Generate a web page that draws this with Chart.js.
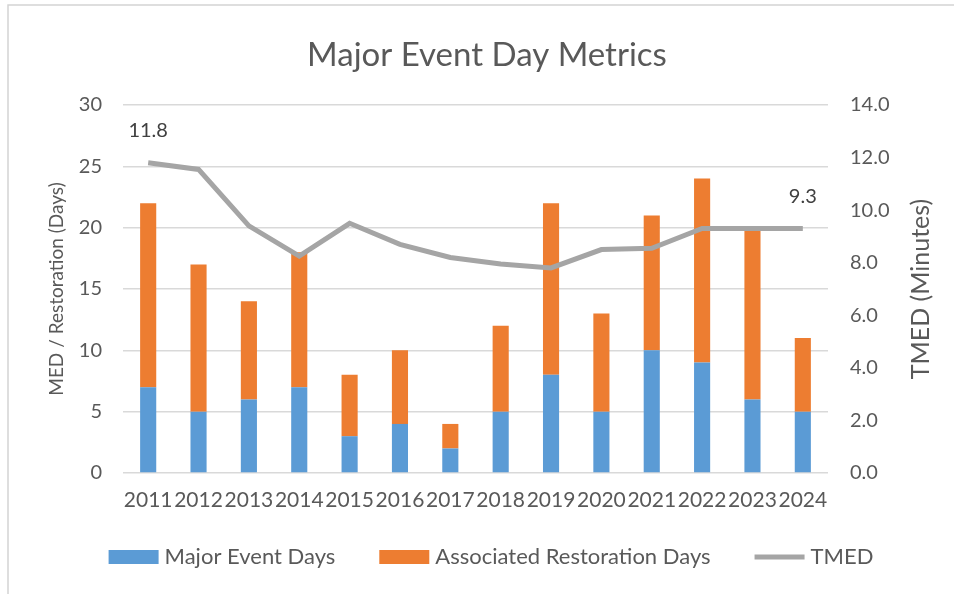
<!DOCTYPE html>
<html>
<head>
<meta charset="utf-8">
<script src="https://cdn.jsdelivr.net/npm/chart.js@4"></script>
<style>
  html, body { margin: 0; padding: 0; background: #fff; }
  #wrap { width: 954px; height: 594px; }
</style>
</head>
<body>
<div id="wrap"><canvas id="myChart" width="954" height="594"></canvas></div>
<script>
const years = ["2011", "2012", "2013", "2014", "2015", "2016", "2017", "2018", "2019", "2020", "2021", "2022", "2023", "2024"];
const majorEventDays = [7, 5, 6, 7, 3, 4, 2, 5, 8, 5, 10, 9, 6, 5];
const restorationDays = [15, 12, 8, 11, 5, 6, 2, 7, 14, 8, 11, 15, 14, 6];
const tmed = [11.8, 11.55, 9.4, 8.25, 9.5, 8.7, 8.2, 7.95, 7.8, 8.5, 8.55, 9.3, 9.3, 9.3];
const leftTicks = [0, 5, 10, 15, 20, 25, 30];
const rightTicks = [0, 2, 4, 6, 8, 10, 12, 14];

Chart.defaults.font.family = "Lato, 'Open Sans', sans-serif";
Chart.defaults.color = "#595959";

// thin frame around the picture (left and top edges)
const framePlugin = {
    id: "frame",
    beforeDraw(chart) {
        const c = chart.ctx;
        c.save();
        c.strokeStyle = "#d4d4d4";
        c.lineWidth = 1.5;
        c.beginPath();
        c.moveTo(8, 594);
        c.lineTo(8, 5);
        c.lineTo(954, 5);
        c.stroke();
        c.restore();
    }
};

// title, centred a little right of the canvas middle like the original
const titlePlugin = {
    id: "titleText",
    afterDraw(chart) {
        const c = chart.ctx;
        c.save();
        c.font = "33px Lato";
        c.fillStyle = "#595959";
        c.textAlign = "center";
        c.textBaseline = "middle";
        c.fillText("Major Event Day Metrics", 487, 55);
        c.restore();
    }
};

// value labels on first and last TMED point
const endLabels = {
    id: "endLabels",
    afterDatasetsDraw(chart) {
        const meta = chart.getDatasetMeta(2);
        const c = chart.ctx;
        c.save();
        c.font = "20px Lato";
        c.fillStyle = "#404040";
        c.textAlign = "center";
        c.textBaseline = "middle";
        [0, tmed.length - 1].forEach(i => {
            const pt = meta.data[i];
            c.fillText(tmed[i].toFixed(1), pt.x, pt.y - 32);
        });
        c.restore();
    }
};

// both axis titles read bottom-to-top, like Excel
const axisTitles = {
    id: "axisTitles",
    afterDraw(chart) {
        const c = chart.ctx;
        const area = chart.chartArea;
        const mid = (area.top + area.bottom) / 2;
        c.save();
        c.fillStyle = "#595959";
        c.textAlign = "center";
        c.textBaseline = "middle";

        c.save();
        c.translate(57, mid);
        c.rotate(-Math.PI / 2);
        c.font = "19px Lato";
        c.fillText("MED / Restoration (Days)", 0, 0);
        c.restore();

        c.translate(921, mid);
        c.rotate(-Math.PI / 2);
        c.font = "25px Lato";
        c.fillText("TMED (Minutes)", 0, 0);
        c.restore();
    }
};

// legend row under the axis
const legendRow = {
    id: "legendRow",
    afterDraw(chart) {
        const c = chart.ctx;
        const y = 557;
        const box = 50, gap = 6, spacing = 44;
        c.save();
        c.font = "22px Lato";
        c.textBaseline = "middle";
        const items = chart.data.datasets.map(ds => ({
            ds: ds,
            w: box + gap + c.measureText(ds.label).width
        }));
        const total = items.reduce((s, it) => s + it.w, 0) + spacing * (items.length - 1);
        let x = 491 - total / 2;
        items.forEach(it => {
            if (it.ds.type === "line") {
                c.strokeStyle = it.ds.borderColor;
                c.lineWidth = 5;
                c.beginPath();
                c.moveTo(x, y);
                c.lineTo(x + box, y);
                c.stroke();
            } else {
                c.fillStyle = it.ds.backgroundColor;
                c.fillRect(x, y - 7, box, 14);
            }
            c.fillStyle = "#595959";
            c.fillText(it.ds.label, x + box + gap, y);
            x += it.w + spacing;
        });
        c.restore();
    }
};

const ctx = document.getElementById("myChart");

new Chart(ctx, {
    type: "bar",
    data: {
        labels: years,
        datasets: [
            {
                label: "Major Event Days",
                data: majorEventDays,
                backgroundColor: "#5b9bd5",
                yAxisID: "y",
                order: 1
            },
            {
                label: "Associated Restoration Days",
                data: restorationDays,
                backgroundColor: "#ed7d31",
                yAxisID: "y",
                order: 1
            },
            {
                type: "line",
                label: "TMED",
                data: tmed,
                borderColor: "#a5a5a5",
                backgroundColor: "#a5a5a5",
                borderWidth: 5,
                pointRadius: 0,
                tension: 0,
                yAxisID: "y2",
                order: 0
            }
        ]
    },
    options: {
        responsive: false,
        animation: false,
        layout: {
            padding: { left: 0, right: 0, top: 105, bottom: 71 }
        },
        datasets: {
            bar: { barPercentage: 0.32, categoryPercentage: 1 }
        },
        plugins: {
            tooltip: { enabled: false },
            legend: { display: false },
            title: { display: false }
        },
        scales: {
            x: {
                stacked: true,
                grid: { display: false },
                border: { display: false },
                ticks: {
                    autoSkip: false,
                    maxRotation: 0,
                    minRotation: 0,
                    padding: 7,
                    font: { size: 21 },
                    color: "#595959"
                },
                afterFit(scale) { scale.height = 50; }
            },
            y: {
                stacked: true,
                position: "left",
                min: 0,
                max: 30,
                afterBuildTicks(scale) { scale.ticks = leftTicks.map(v => ({ value: v })); },
                grid: { color: "#d9d9d9", lineWidth: 1.5, drawTicks: false },
                border: { display: false },
                ticks: { padding: 21, font: { size: 20 }, color: "#595959" },
                afterFit(scale) { scale.width = 123; }
            },
            y2: {
                position: "right",
                min: 0,
                max: 14,
                afterBuildTicks(scale) { scale.ticks = rightTicks.map(v => ({ value: v })); },
                grid: { display: false, drawTicks: false },
                border: { display: false },
                ticks: {
                    padding: 22,
                    font: { size: 20 },
                    color: "#595959",
                    callback: v => Number(v).toFixed(1)
                },
                afterFit(scale) { scale.width = 126; }
            }
        }
    },
    plugins: [framePlugin, titlePlugin, endLabels, axisTitles, legendRow]
});
</script>
</body>
</html>
